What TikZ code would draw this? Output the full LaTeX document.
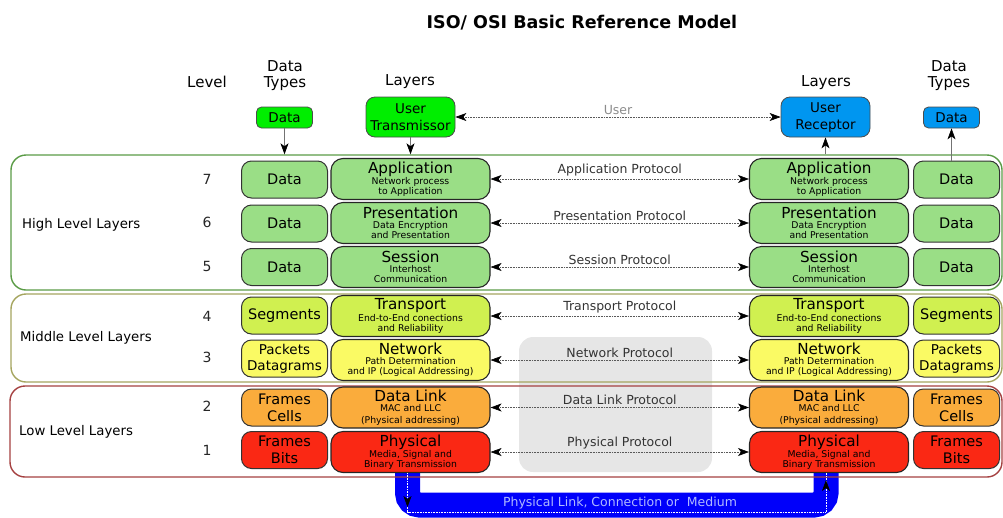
\documentclass[tikz,border=0pt]{standalone}
\usepackage{fontspec}
\setmainfont{DejaVu Sans}
\usetikzlibrary{
  arrows.meta,
  positioning,
  decorations.markings,
  backgrounds
}

\definecolor{highgreen}{RGB}{154,222,134}
\definecolor{translime}{RGB}{208,240,80}
\definecolor{netyellow}{RGB}{250,250,100}
\definecolor{linkorange}{RGB}{250,172,60}
\definecolor{physred}{RGB}{250,40,20}
\definecolor{usergreen}{RGB}{0,238,0}
\definecolor{userblue}{RGB}{0,150,240}
\definecolor{mediumblue}{RGB}{0,0,250}
\definecolor{highframe}{RGB}{90,155,70}
\definecolor{midframe}{RGB}{165,165,95}
\definecolor{lowframe}{RGB}{165,65,65}
\definecolor{protozone}{RGB}{230,230,230}
\definecolor{mediumtext}{RGB}{175,185,255}

\newcommand{\lname}[1]{{\fontsize{15.2}{16}\selectfont #1}}

\begin{document}
\begin{tikzpicture}[
      x=1pt,y=-1pt,
      >={Stealth[length=11pt,width=8pt,inset=3pt,color=black]},
      layerbox/.style={
         rectangle,
         rounded corners=12pt,
         draw=black!85,
         line width=1.1pt,
         minimum width=159pt,
         minimum height=41pt,
         inner sep=0pt,
         align=center,
         font=\fontsize{9.3}{10}\selectfont
      },
      typebox/.style={
         rectangle,
         rounded corners=10pt,
         draw=black!80,
         line width=1pt,
         minimum width=86pt,
         minimum height=37pt,
         inner sep=0pt,
         align=center,
         font=\fontsize{14.5}{17}\selectfont
      },
      userbox/.style={
         rectangle,
         rounded corners=9pt,
         draw=black!70,
         line width=0.8pt,
         minimum width=89pt,
         minimum height=40pt,
         inner sep=0pt,
         align=center,
         font=\fontsize{13.5}{17}\selectfont
      },
      datatag/.style={
         rectangle,
         rounded corners=5pt,
         draw=black!70,
         line width=0.8pt,
         minimum width=56pt,
         minimum height=21pt,
         inner sep=0pt,
         font=\fontsize{13.5}{15}\selectfont
      },
      group/.style={
         rectangle,
         rounded corners=15pt,
         draw=#1,
         line width=1.4pt
      },
      grouplabel/.style={anchor=west, inner sep=0pt, font=\fontsize{13.3}{15}\selectfont},
      level/.style={font=\fontsize{14}{16}\selectfont, text=black!85},
      head/.style={align=center, font=\fontsize{15}{16}\selectfont},
      tip/.style={->, line width=0.7pt, draw=black!55},
      protocol/.style={<->, densely dotted, line width=0.6pt, draw=black!65},
      protolabel/.style={font=\fontsize{12.5}{14}\selectfont, text=black!80},
      channel/.style={draw=mediumblue, line width=25pt, rounded corners=12pt},
      mediumflow/.style={draw=white, densely dotted, line width=0.6pt,
         postaction={decorate},
         decoration={markings,
            mark=at position 34pt with {\arrow{>}},
            mark=at position -7pt with {\arrow{>}}}}
    ]
    \useasboundingbox (0,0) rectangle (1003,517);

    % title and column heads
    \node[font=\bfseries\fontsize{17.5}{20}\selectfont] (title) at (582,23) {ISO/ OSI Basic Reference Model};
    \node[head] (hlevel) at (207,82) {Level};
    \node[head] (htypesl) at (285,76) {Data\\Types};
    \node[head] (hlayersl) at (410,82) {Layers};
    \node[head] (hlayersr) at (826,83) {Layers};
    \node[head] (htypesr) at (949,76) {Data\\Types};

    % zone behind the lower protocols
    \node[rectangle, rounded corners=14pt, fill=protozone, minimum width=193pt, minimum height=135pt] (zone) at (615.5,404.5) {};

    % level groups
    \node[group=highframe, minimum width=991pt, minimum height=135pt] (high) at (506.5,222.5) {};
    \node[group=midframe, minimum width=991pt, minimum height=88pt] (mid) at (506.5,338) {};
    \node[group=lowframe, minimum width=992pt, minimum height=91pt] (low) at (506,431.5) {};
    \node[grouplabel] (ghigh) at (22,225) {High Level Layers};
    \node[grouplabel] (gmid) at (20,338) {Middle Level Layers};
    \node[grouplabel] (glow) at (19,432) {Low Level Layers};

    % level numbers
    \node[level] (n7) at (207,179) {7};
    \node[level] (n6) at (207,222) {6};
    \node[level] (n5) at (207,266) {5};
    \node[level] (n4) at (207,316) {4};
    \node[level] (n3) at (207,357) {3};
    \node[level] (n2) at (207,406) {2};
    \node[level] (n1) at (207,450) {1};

    % user boxes
    \node[datatag, fill=usergreen] (dtl) at (284.5,117.5) {Data};
    \node[userbox, fill=usergreen] (utx) at (410.5,117) {User\\Transmissor};
    \node[userbox, fill=userblue] (urx) at (825.5,117) {User\\Receptor};
    \node[datatag, fill=userblue] (dtr) at (951.5,117.5) {Data};

    % left data types
    \node[typebox, fill=highgreen] (tl7) at (284.5,179.5) {Data};
    \node[typebox, fill=highgreen] (tl6) at (284.5,223.5) {Data};
    \node[typebox, fill=highgreen] (tl5) at (284.5,267) {Data};
    \node[typebox, fill=translime] (tl4) at (284.5,315.5) {Segments};
    \node[typebox, fill=netyellow, font=\fontsize{13.5}{16}\selectfont] (tl3) at (284.5,358.5) {Packets\\Datagrams};
    \node[typebox, fill=linkorange] (tl2) at (284.5,407.5) {Frames\\Cells};
    \node[typebox, fill=physred] (tl1) at (284.5,450) {Frames\\Bits};

    % left layers
    \node[layerbox, fill=highgreen] (l7) at (410.5,179) {\lname{Application}\\Network process\\to Application};
    \node[layerbox, fill=highgreen] (l6) at (410.5,223) {\lname{Presentation}\\Data Encryption\\and Presentation};
    \node[layerbox, fill=highgreen] (l5) at (410.5,267) {\lname{Session}\\Interhost\\Communication};
    \node[layerbox, fill=translime] (l4) at (410.5,316) {\lname{Transport}\\End-to-End conections\\and Reliability};
    \node[layerbox, fill=netyellow] (l3) at (410.5,360) {\lname{Network}\\Path Determination\\and IP (Logical Addressing)};
    \node[layerbox, fill=linkorange] (l2) at (410.5,407.5) {\lname{Data Link}\\MAC and LLC\\[2pt](Physical addressing)};
    \node[layerbox, fill=physred] (l1) at (410.5,452) {\lname{Physical}\\Media, Signal and\\Binary Transmission};

    % right layers
    \node[layerbox, fill=highgreen] (r7) at (829,179) {\lname{Application}\\Network process\\to Application};
    \node[layerbox, fill=highgreen] (r6) at (829,223) {\lname{Presentation}\\Data Encryption\\and Presentation};
    \node[layerbox, fill=highgreen] (r5) at (829,267) {\lname{Session}\\Interhost\\Communication};
    \node[layerbox, fill=translime] (r4) at (829,316) {\lname{Transport}\\End-to-End conections\\and Reliability};
    \node[layerbox, fill=netyellow] (r3) at (829,360) {\lname{Network}\\Path Determination\\and IP (Logical Addressing)};
    \node[layerbox, fill=linkorange] (r2) at (829,407.5) {\lname{Data Link}\\MAC and LLC\\[2pt](Physical addressing)};
    \node[layerbox, fill=physred] (r1) at (829,452) {\lname{Physical}\\Media, Signal and\\Binary Transmission};

    % right data types
    \node[typebox, fill=highgreen] (tr7) at (956.5,179.5) {Data};
    \node[typebox, fill=highgreen] (tr6) at (956.5,223.5) {Data};
    \node[typebox, fill=highgreen] (tr5) at (956.5,267) {Data};
    \node[typebox, fill=translime] (tr4) at (956.5,315.5) {Segments};
    \node[typebox, fill=netyellow, font=\fontsize{13.5}{16}\selectfont] (tr3) at (956.5,358.5) {Packets\\Datagrams};
    \node[typebox, fill=linkorange] (tr2) at (956.5,407.5) {Frames\\Cells};
    \node[typebox, fill=physred] (tr1) at (956.5,450) {Frames\\Bits};

    % physical medium
    \coordinate (chanmid) at (616,505);
    \coordinate (chanlow) at (616,512);
    \begin{scope}[on background layer]
      \draw[channel] ([xshift=-3pt,yshift=8pt]l1.south) |- (chanmid) -| ([xshift=-3pt,yshift=8pt]r1.south);
    \end{scope}

    % user flow
    \draw[tip] (dtl) -- (dtl |- high.north);
    \draw[tip] (utx) -- (utx |- high.north);
    \draw[tip] (urx |- high.north) -- (urx);
    \draw[tip] (dtr |- tr7.north) -- (dtr);
    \draw[protocol] (utx) -- (urx) node[midway, above=-1pt, protolabel, text=black!45] {User};

    % peer protocols
    \draw[protocol] (l7) -- (r7) node[midway, above=-1pt, protolabel] {Application Protocol};
    \draw[protocol] (l6) -- (r6) node[midway, above=-1pt, protolabel] {Presentation Protocol};
    \draw[protocol] (l5) -- (r5) node[midway, above=-1pt, protolabel] {Session Protocol};
    \draw[protocol] (l4) -- (r4) node[midway, above=-1pt, protolabel] {Transport Protocol};
    \draw[protocol] (l3) -- (r3) node[midway, above=-1pt, protolabel] {Network Protocol};
    \draw[protocol] (l2) -- (r2) node[midway, above=-1pt, protolabel] {Data Link Protocol};
    \draw[protocol] (l1) -- (r1) node[midway, above=-1pt, protolabel] {Physical Protocol};

    % medium flow
    \draw[mediumflow] ([xshift=-3pt]l1.south) |- (chanlow) -| ([xshift=-3pt]r1.south);
    \node[font=\fontsize{12.5}{14}\selectfont, text=mediumtext] (medium) at (620,503) {Physical Link, Connection or~ Medium};
\end{tikzpicture}
\end{document}
